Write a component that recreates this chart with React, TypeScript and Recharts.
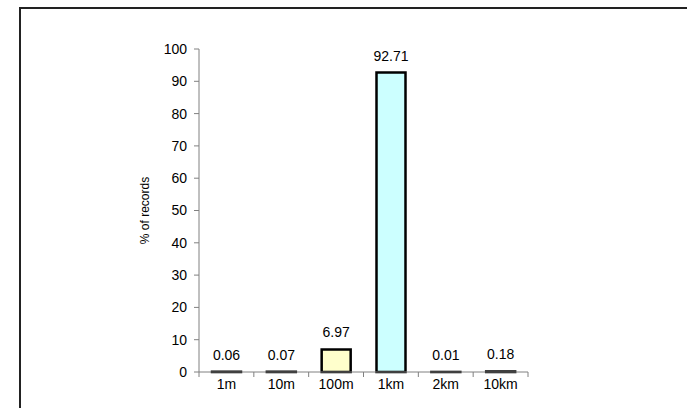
import { BarChart, Bar, XAxis, YAxis, LabelList, Cell } from 'recharts';

const categories = ['1m', '10m', '100m', '1km', '2km', '10km'];
const percentages = [0.06, 0.07, 6.97, 92.71, 0.01, 0.18];
const barColors = ['#000000', '#000000', '#FFFFCC', '#CCFFFF', '#000000', '#000000'];
const yTicks = [0, 10, 20, 30, 40, 50, 60, 70, 80, 90, 100];

const data = categories.map((name, i) => ({ name, value: percentages[i] }));

const font = 'Liberation Sans, Arial, sans-serif';
const bandWidth = (528 - 199) / categories.length;

const XTick = (props: any) => {
  const { x, y, payload, index } = props;
  const left = x - bandWidth / 2;
  return (
    <g>
      <line x1={left} y1={y - 8} x2={left} y2={y - 3} stroke="#808080" />
      {index === categories.length - 1 && (
        <line x1={x + bandWidth / 2} y1={y - 8} x2={x + bandWidth / 2} y2={y - 3} stroke="#808080" />
      )}
      <text x={x} y={y + 9} textAnchor="middle" fontSize={14} fill="#000" fontFamily={font}>
        {payload.value}
      </text>
    </g>
  );
};

export default function App() {
  return (
    <div style={{ position: 'absolute', left: 0, top: 0, width: 687, height: 408, background: '#fff', overflow: 'hidden' }}>
      <div
        style={{
          position: 'absolute',
          left: 19,
          top: 7,
          width: 700,
          height: 420,
          borderLeft: '2px solid #222',
          borderTop: '2px solid #222',
        }}
      />
      <div style={{ position: 'absolute', left: 0, top: 0 }}>
        <BarChart
          width={687}
          height={408}
          data={data}
          margin={{ top: 49, right: 159, left: 139, bottom: 6 }}
          barSize={29}
        >
          <XAxis
            dataKey="name"
            height={30}
            axisLine={{ stroke: '#808080' }}
            tickLine={false}
            tick={<XTick />}
            interval={0}
          />
          <YAxis
            width={60}
            domain={[0, 100]}
            ticks={yTicks}
            interval={0}
            axisLine={{ stroke: '#808080' }}
            tickLine={{ stroke: '#808080' }}
            tickSize={5}
            tick={{ fill: '#000', fontSize: 14, fontFamily: font, dx: -5 }}
            label={{
              value: '% of records',
              angle: -90,
              position: 'insideLeft',
              offset: 0,
              dx: 6,
              style: { fill: '#000', fontSize: 12, fontFamily: font, textAnchor: 'middle' },
            }}
          />
          <Bar dataKey="value" stroke="#000" strokeWidth={2.5} isAnimationActive={false}>
            {data.map((d, i) => (
              <Cell key={d.name} fill={barColors[i]} />
            ))}
            <LabelList
              dataKey="value"
              position="top"
              offset={12}
              style={{ fill: '#000', fontSize: 14, fontFamily: font }}
            />
          </Bar>
        </BarChart>
      </div>
    </div>
  );
}
